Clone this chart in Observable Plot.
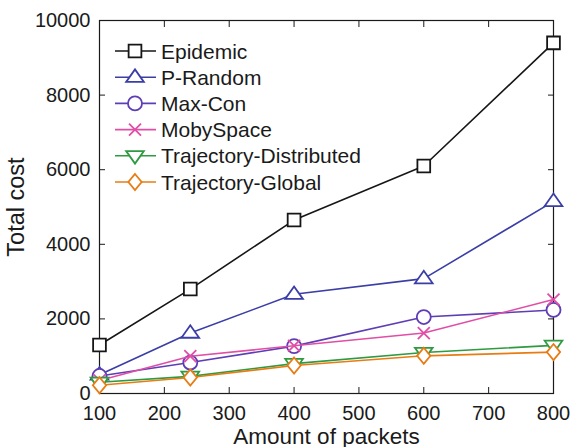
<!DOCTYPE html>
<html><head><meta charset="utf-8">
<script src="https://cdn.jsdelivr.net/npm/d3@7"></script>
<script src="https://cdn.jsdelivr.net/npm/@observablehq/plot@0.6"></script>
<style>
body{margin:0;background:#fff;font-family:"Liberation Sans",Arial,sans-serif;}
#wrap{position:relative;width:573px;height:447px;overflow:hidden;}
#legend{position:absolute;left:0;top:0;pointer-events:none;}
</style></head>
<body><div id="wrap"></div>
<script>
const packets = [100, 240, 400, 600, 800];
const seriesNames = ["Epidemic","P-Random","Max-Con","MobySpace","Trajectory-Distributed","Trajectory-Global"];
const epidemic = [1300, 2800, 4650, 6100, 9400];
const pRandom = [500, 1620, 2660, 3080, 5150];
const maxCon = [470, 830, 1270, 2050, 2240];
const mobySpace = [350, 1000, 1280, 1620, 2520];
const trajDistributed = [300, 460, 800, 1100, 1290];
const trajGlobal = [220, 430, 750, 1010, 1110];
const xTicks = [100,200,300,400,500,600,700,800];
const yTicks = [0,2000,4000,6000,8000,10000];
const colors = ["#161616","#3a3ea6","#5e3db5","#e04ea6","#2f9a41","#e87c14"];

const triDown = {draw(ctx, size){const s=Math.sqrt(size/Math.PI); const h=s*1.15, w=s*1.3; ctx.moveTo(-w,-h*0.6); ctx.lineTo(w,-h*0.6); ctx.lineTo(0,h*1.0); ctx.closePath();}};
const triUp = {draw(ctx, size){const s=Math.sqrt(size/Math.PI); const h=s*1.15, w=s*1.3; ctx.moveTo(-w,h*0.6); ctx.lineTo(w,h*0.6); ctx.lineTo(0,-h*1.0); ctx.closePath();}};
const diamond = {draw(ctx, size){const s=Math.sqrt(size/Math.PI); ctx.moveTo(0,-s*1.15); ctx.lineTo(s*0.95,0); ctx.lineTo(0,s*1.15); ctx.lineTo(-s*0.95,0); ctx.closePath();}};
const symbols = ["square", triUp, "circle", "times", triDown, diamond];
const radii = [7.2, 6.8, 7, 5.5, 6.8, 7];

const values = [epidemic, pRandom, maxCon, mobySpace, trajDistributed, trajGlobal];
const data = [];
values.forEach((arr, si) => arr.forEach((v, i) => data.push({series: seriesNames[si], si, x: packets[i], y: v})));

const marks = [];
values.forEach((arr, si) => {
  const d = data.filter(r => r.si === si);
  marks.push(Plot.line(d, {x:"x", y:"y", stroke: colors[si], strokeWidth: 1.6}));
  marks.push(Plot.dot(d, {x:"x", y:"y", stroke: colors[si], fill: si===3 ? "none" : "white", strokeWidth: 1.8, r: radii[si], symbol: symbols[si]}));
});

const fmt = d3.format("d");
const chart = Plot.plot({
  width: 573, height: 447,
  marginLeft: 99, marginRight: 20, marginTop: 20, marginBottom: 54,
  style: {fontFamily: '"Liberation Sans", Arial, sans-serif', fontSize: "20px", color: "#1a1a1a", background: "white", overflow: "visible"},
  x: {domain: [100, 800], ticks: xTicks},
  y: {domain: [0, 10000], ticks: yTicks},
  marks: [
    Plot.axisX(xTicks, {anchor: "bottom", tickSize: 0, tickPadding: 12, tickFormat: fmt, label: "Amount of packets", labelAnchor: "center", labelOffset: 50, labelArrow: "none", fontSize: 20}),
    Plot.axisY(yTicks, {anchor: "left", tickSize: 0, tickPadding: 9, tickFormat: fmt, label: "Total cost", labelAnchor: "center", labelOffset: 92, labelArrow: "none", fontSize: 20}),
    Plot.axisX(xTicks, {anchor: "bottom", tickSize: -6, tickFormat: () => "", label: null}),
    Plot.axisX(xTicks, {anchor: "top", tickSize: -6, tickFormat: () => "", label: null}),
    Plot.axisY(yTicks, {anchor: "left", tickSize: -6, tickFormat: () => "", label: null}),
    Plot.axisY(yTicks, {anchor: "right", tickSize: -6, tickFormat: () => "", label: null}),
    Plot.frame({stroke: "#1a1a1a", strokeWidth: 1.2}),
    ...marks
  ]
});
document.getElementById("wrap").appendChild(chart);
chart.querySelectorAll("[aria-label='x-axis label'] text").forEach(t => t.setAttribute("font-size", "22.5px"));
chart.querySelectorAll("[aria-label='y-axis label'] text").forEach(t => t.setAttribute("font-size", "23.5px"));

// legend overlay
const lg = d3.select("#wrap").append("svg").attr("id","legend").attr("width",573).attr("height",447);
seriesNames.forEach((name, si) => {
  const cy = 51 + si * 26.2;
  const g = lg.append("g");
  g.append("line").attr("x1",115).attr("x2",156).attr("y1",cy).attr("y2",cy).attr("stroke",colors[si]).attr("stroke-width",1.6);
  const sym = typeof symbols[si] === "string" ? {square: d3.symbolSquare, circle: d3.symbolCircle, times: d3.symbolTimes}[symbols[si]] : symbols[si];
  g.append("path").attr("d", d3.symbol(sym, Math.PI*radii[si]*radii[si])()).attr("transform",`translate(135,${cy})`)
    .attr("stroke",colors[si]).attr("stroke-width",1.8).attr("fill", si===3 ? "none" : "white");
  g.append("text").attr("x",161).attr("y",cy).attr("dy","0.36em").attr("font-size","21px").attr("fill","#1a1a1a")
    .attr("font-family",'"Liberation Sans", Arial, sans-serif').text(name);
});
</script></body></html>
